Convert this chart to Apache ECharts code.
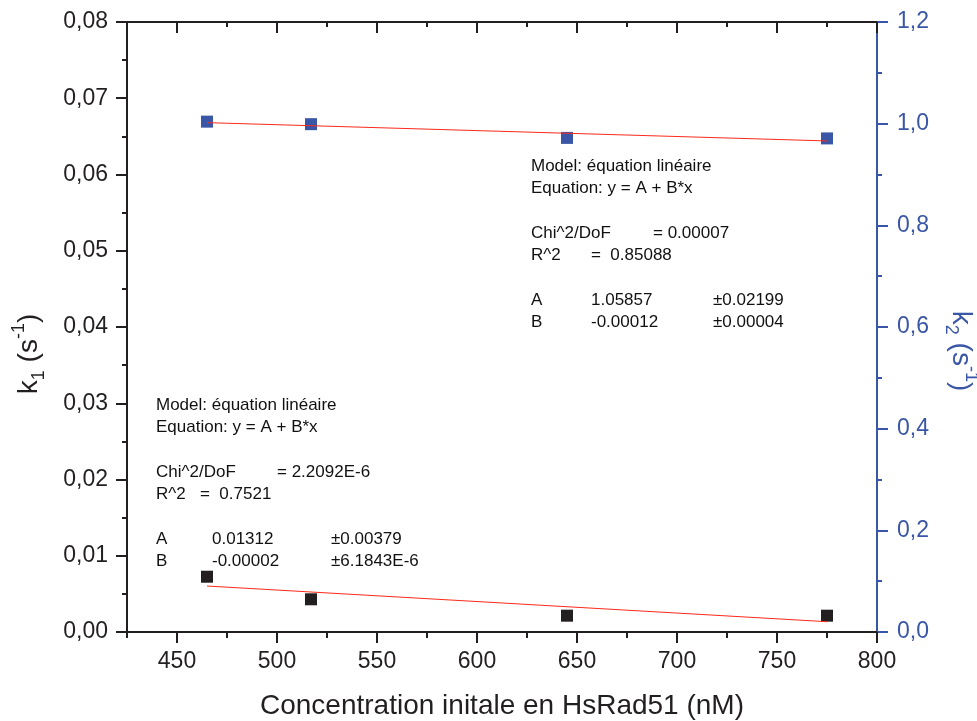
<!DOCTYPE html>
<html>
<head>
<meta charset="utf-8">
<script src="https://cdn.jsdelivr.net/npm/echarts@6/dist/echarts.min.js"></script>
<style>html,body{margin:0;padding:0;background:#fff}#c{width:977px;height:721px}</style>
</head>
<body>
<div id="c"></div>
<script>
// ---- data ----
const concentrations = [465, 517, 645, 775];
const k1Values = [0.00725, 0.00429, 0.00214, 0.00214];
const k2Values = [1.004, 0.999, 0.972, 0.971];
const fitX = [465, 775];
const k1FitValues = [0.00603, 0.00135];
const k2FitValues = [1.002, 0.966];
const xMajorTicks = [450, 500, 550, 600, 650, 700, 750, 800];
const xMinorTicks = [425, 475, 525, 575, 625, 675, 725, 775];
const xTitle = 'Concentration initale en HsRad51 (nM)';
const fit1Lines = [
  ['Model: équation linéaire'], ['Equation: y = A + B*x'], null,
  ['Chi^2/DoF', '= 2.2092E-6'], ['R^2', '=  0.7521'], null,
  ['A', '0.01312', '±0.00379'], ['B', '-0.00002', '±6.1843E-6']
];
const fit2Lines = [
  ['Model: équation linéaire'], ['Equation: y = A + B*x'], null,
  ['Chi^2/DoF', '= 0.00007'], ['R^2', '=  0.85088'], null,
  ['A', '1.05857', '±0.02199'], ['B', '-0.00012', '±0.00004']
];

const FONT = '"Liberation Sans", Arial, sans-serif';
const BLACK = '#231F20';
const BLUE = '#3A56A6';

function buildText(lines, x0, y0, cols) {
  const els = [];
  lines.forEach((ln, i) => {
    if (!ln) return;
    let c = cols.default;
    if (ln.length === 2) c = (ln[0] === 'R^2') ? cols.r2 : cols.chi;
    if (ln.length === 3) c = cols.ab;
    ln.forEach((t, j) => {
      els.push({
        type: 'text', z: 100,
        style: { text: t, x: x0 + c[j], y: y0 + i * 22.4, fill: '#111', font: '17px ' + FONT, verticalAlign: 'middle', align: 'left' }
      });
    });
  });
  return els;
}

const chart = echarts.init(document.getElementById('c'));
const sharedX = { type: 'value', min: 425, max: 800, splitLine: { show: false } };
function richFor(color) {
  return {
    k: { fontSize: 28, fontFamily: FONT, lineHeight: 38, color: color },
    sub: { fontSize: 18, fontFamily: FONT, verticalAlign: 'bottom', lineHeight: 18, color: color },
    sup: { fontSize: 18, fontFamily: FONT, verticalAlign: 'top', lineHeight: 18, color: color }
  };
}

chart.setOption({
  animation: false,
  backgroundColor: '#fff',
  grid: { left: 127, right: 100, top: 22, bottom: 89, containLabel: false, outerBoundsMode: 'none' },
  xAxis: [
    Object.assign({}, sharedX, {
      position: 'bottom',
      name: xTitle, nameLocation: 'middle', nameGap: 60,
      nameTextStyle: { fontSize: 28, fontFamily: FONT, color: BLACK },
      axisLine: { show: true, onZero: false, lineStyle: { color: BLACK, width: 2 } },
      axisTick: { show: true, inside: false, length: 11, customValues: xMajorTicks, lineStyle: { color: BLACK, width: 2 } },
      axisLabel: { show: true, margin: 18, fontSize: 23, fontFamily: FONT, color: BLACK, customValues: xMajorTicks }
    }),
    Object.assign({}, sharedX, {
      position: 'bottom',
      axisLine: { show: false, onZero: false },
      axisTick: { show: true, inside: false, length: 6, customValues: xMinorTicks, lineStyle: { color: BLACK, width: 2 } },
      axisLabel: { show: false }
    }),
    Object.assign({}, sharedX, {
      position: 'top',
      axisLine: { show: true, onZero: false, lineStyle: { color: BLACK, width: 2 } },
      axisTick: { show: true, inside: true, length: 11, customValues: xMajorTicks, lineStyle: { color: BLACK, width: 2 } },
      axisLabel: { show: false }
    }),
    Object.assign({}, sharedX, {
      position: 'top',
      axisLine: { show: false, onZero: false },
      axisTick: { show: true, inside: true, length: 5, customValues: xMinorTicks, lineStyle: { color: BLACK, width: 2 } },
      axisLabel: { show: false }
    })
  ],
  yAxis: [
    {
      type: 'value', position: 'left', min: 0, max: 0.08, interval: 0.01,
      name: '{k|k}{sub|1}{k| (s}{sup|-1}{k|)}', nameLocation: 'middle', nameGap: 79, nameRotate: 90,
      nameTextStyle: { color: BLACK, rich: richFor(BLACK), padding: [0, 54, 0, 0] },
      splitLine: { show: false },
      axisLine: { show: true, onZero: false, lineStyle: { color: BLACK, width: 2 } },
      axisTick: { show: true, length: 11, lineStyle: { color: BLACK, width: 2 } },
      minorTick: { show: true, splitNumber: 2, length: 5, lineStyle: { color: BLACK, width: 2 } },
      minorSplitLine: { show: false },
      axisLabel: { margin: 19, fontSize: 23, fontFamily: FONT, color: BLACK, formatter: v => v.toFixed(2).replace('.', ',') }
    },
    {
      type: 'value', position: 'right', min: 0, max: 1.2, interval: 0.2,
      name: '{k|k}{sub|2}{k| (s}{sup|-1}{k|)}', nameLocation: 'middle', nameGap: 65, nameRotate: -90,
      nameTextStyle: { color: BLUE, rich: richFor(BLUE), padding: [0, 0, 0, 48] },
      splitLine: { show: false },
      axisLine: { show: true, onZero: false, lineStyle: { color: BLUE, width: 2 } },
      axisTick: { show: true, length: 11, lineStyle: { color: BLUE, width: 2 } },
      minorTick: { show: true, splitNumber: 2, length: 5, lineStyle: { color: BLUE, width: 2 } },
      minorSplitLine: { show: false },
      axisLabel: { margin: 20, fontSize: 23, fontFamily: FONT, color: BLUE, formatter: v => v.toFixed(1).replace('.', ',') }
    }
  ],
  series: [
    {
      type: 'scatter', xAxisIndex: 0, yAxisIndex: 0, symbol: 'rect', symbolSize: 12,
      itemStyle: { color: BLACK, opacity: 1 },
      data: concentrations.map((x, i) => [x, k1Values[i]])
    },
    {
      type: 'scatter', xAxisIndex: 0, yAxisIndex: 1, symbol: 'rect', symbolSize: 12,
      itemStyle: { color: BLUE, opacity: 1 },
      data: concentrations.map((x, i) => [x, k2Values[i]])
    },
    {
      type: 'line', xAxisIndex: 0, yAxisIndex: 0, showSymbol: false, symbol: 'none',
      lineStyle: { color: '#FF2A1A', width: 1 },
      data: fitX.map((x, i) => [x, k1FitValues[i]])
    },
    {
      type: 'line', xAxisIndex: 0, yAxisIndex: 1, showSymbol: false, symbol: 'none',
      lineStyle: { color: '#FF2A1A', width: 1 },
      data: fitX.map((x, i) => [x, k2FitValues[i]])
    }
  ],
  graphic: [].concat(
    buildText(fit1Lines, 156, 405, { default: [0], chi: [0, 121], r2: [0, 44], ab: [0, 56, 175] }),
    buildText(fit2Lines, 531, 166, { default: [0], chi: [0, 122], r2: [0, 60], ab: [0, 60, 182] })
  )
});
</script>
</body>
</html>
